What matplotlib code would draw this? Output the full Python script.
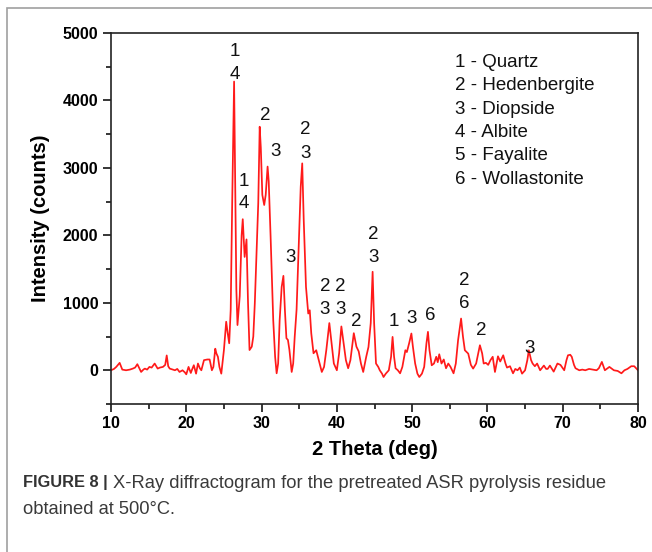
import matplotlib.pyplot as plt
from matplotlib.patches import Rectangle
from matplotlib.ticker import MultipleLocator

# XRD pattern (2 theta in deg, intensity in counts)
two_theta = [
    10.0, 10.4, 10.7, 11.15, 11.5, 12.0, 12.5, 12.9, 13.2, 13.5, 13.8, 14.0,
    14.3, 14.5, 14.8, 15.1, 15.4, 15.8, 16.2, 16.5, 16.9, 17.2, 17.4, 17.6,
    17.8, 18.2, 18.5, 18.8, 19.1, 19.5, 19.8, 20.0, 20.3, 20.6, 20.8, 21.0,
    21.3, 21.55, 21.8, 22.0, 22.35, 22.8, 23.1, 23.4, 23.6, 23.85, 24.0, 24.2,
    24.4, 24.65, 25.0, 25.3, 25.5, 25.7, 25.9, 26.1, 26.35, 26.5, 26.65, 26.8,
    27.1, 27.35, 27.5, 27.75, 28.0, 28.2, 28.4, 28.7, 28.9, 29.1, 29.35, 29.56,
    29.75, 29.9, 30.1, 30.35, 30.55, 30.8, 30.95, 31.2, 31.55, 31.8, 32.0, 32.2,
    32.4, 32.67, 32.9, 33.1, 33.3, 33.5, 33.7, 34.0, 34.2, 34.4, 34.65, 34.9,
    35.2, 35.4, 35.6, 35.9, 36.2, 36.4, 36.6, 36.9, 37.26, 37.6, 38.0, 38.3,
    38.6, 39.0, 39.3, 39.6, 40.0, 40.3, 40.6, 40.9, 41.2, 41.5, 41.8, 42.25,
    42.6, 42.9, 43.2, 43.5, 43.9, 44.2, 44.5, 44.75, 44.95, 45.2, 45.5, 45.7,
    46.0, 46.2, 46.5, 46.9, 47.2, 47.4, 47.6, 47.8, 48.1, 48.4, 48.7, 49.1,
    49.3, 49.6, 49.9, 50.1, 50.4, 50.7, 50.95, 51.3, 51.6, 51.9, 52.1, 52.3,
    52.6, 52.9, 53.2, 53.4, 53.6, 53.9, 54.2, 54.5, 54.8, 55.1, 55.5, 55.8,
    56.1, 56.5, 56.75, 57.0, 57.45, 57.8, 58.1, 58.5, 59.0, 59.3, 59.5, 59.8,
    60.1, 60.4, 60.7, 61.0, 61.4, 61.7, 62.1, 62.4, 62.6, 63.0, 63.4, 63.7,
    64.0, 64.3, 64.6, 65.0, 65.3, 65.5, 65.8, 66.0, 66.3, 66.6, 67.0, 67.5,
    67.8, 68.0, 68.3, 68.8, 69.3, 69.7, 70.2, 70.5, 70.7, 71.0, 71.2, 71.5,
    71.7, 72.2, 72.6, 73.0, 73.5, 74.0, 74.5, 74.8, 75.2, 75.6, 76.2, 76.8,
    77.3, 77.8, 78.2, 78.6, 79.1, 79.5, 80.0,
]
intensity = [
    0, 20, 50, 110, 10, 0, 10, 25, 40, 90, 20, -25,
    10, 25, 10, 50, 40, 100, 25, 40, 50, 80, 220, 60,
    25, 10, 0, 20, -25, 0, -30, -60, 50, -40, 20, 75,
    -50, 100, 30, 0, 150, 160, 160, 0, 50, 320, 250, 200,
    50, -50, 300, 720, 550, 400, 900, 2500, 4280, 2800, 1200, 670,
    1100, 2000, 2240, 1680, 1940, 1000, 300, 350, 500, 990, 1800, 2480,
    3610, 3300, 2600, 2450, 2600, 3020, 2800, 1980, 740, 200, -45, 100,
    740, 1236, 1400, 890, 475, 450, 300, -25, 100, 494, 900, 1730,
    2720, 3067, 2226, 1236, 841, 890, 549, 252, 297, 148, -25, 50,
    300, 700, 400, 100, 0, 250, 650, 400, 150, 30, 150, 550,
    350, 280, 100, -25, 200, 345, 700, 1460, 700, 100, 50, 0,
    -50, -100, -50, 0, 200, 495, 200, 30, 0, -45, 50, 297,
    270, 400, 545, 350, 100, -50, -100, -50, 50, 400, 570, 300,
    74, 100, 200, 120, 237, 100, 160, 30, 100, 50, -45, 100,
    445, 767, 500, 297, 247, 80, 25, 100, 371, 250, 100, 110,
    80, 150, 200, -25, 207, 130, 222, 100, 40, 60, -45, 20,
    0, 40, -50, 0, 150, 297, 150, 100, 60, 100, 0, 70,
    20, 20, 70, -20, 100, 80, 0, 150, 222, 230, 200, 80,
    30, 0, 10, 0, 20, 10, 0, 30, 124, 0, 50, 0,
    -10, -45, 0, 20, 60, 60, 0,
]

# phase labels above peaks
label_x = [26.5, 26.5, 27.7, 27.7, 30.45, 31.9, 35.85, 35.85, 33.86,
           38.4, 38.4, 40.5, 40.5, 42.6, 44.85, 44.85, 47.5, 49.93, 52.37,
           56.92, 56.92, 59.2, 65.55]
label_y = [4724, 4378, 2795, 2478, 3784, 3240, 3562, 3215, 1672,
           1246, 900, 1246, 900, 717, 2010, 1675, 717, 767, 816,
           1336, 990, 594, 322]
label_txt = ["1", "4", "1", "4", "2", "3", "2", "3", "3",
             "2", "3", "2", "3", "2", "2", "3", "1", "3", "6",
             "2", "6", "2", "3"]

phases = ["1 - Quartz", "2 - Hedenbergite", "3 - Diopside",
          "4 - Albite", "5 - Fayalite", "6 - Wollastonite"]

plt.rcParams["font.family"] = ["Liberation Sans", "DejaVu Sans"]

fig = plt.figure(figsize=(6.52, 5.52), dpi=100)
ax = fig.add_axes([111 / 652, 1 - 404 / 552, 527 / 652, 371 / 552])

ax.plot(two_theta, intensity, color="#ff1a1a", lw=1.25)

ax.set_xlim(10, 80)
ax.set_ylim(-500, 5000)
ax.xaxis.set_major_locator(MultipleLocator(10))
ax.xaxis.set_minor_locator(MultipleLocator(5))
ax.yaxis.set_major_locator(MultipleLocator(1000))
ax.yaxis.set_minor_locator(MultipleLocator(500))
ax.tick_params(which="major", direction="out", length=6, width=1.1,
               labelsize=11.5, pad=3)
ax.tick_params(which="minor", direction="out", length=3.5, width=1.1)
for lbl in ax.get_xticklabels() + ax.get_yticklabels():
    lbl.set_fontweight("bold")
for sp in ax.spines.values():
    sp.set_linewidth(1.2)
    sp.set_color("#222222")

ax.set_xlabel("2 Theta (deg)", fontsize=14.5, fontweight="bold", labelpad=6)
ax.set_ylabel("Intensity (counts)", fontsize=14.5, fontweight="bold", labelpad=9)

for x, y, t in zip(label_x, label_y, label_txt):
    ax.text(x, y, t, ha="center", va="center", fontsize=13.5, color="#111111")

for i, p in enumerate(phases):
    fig.text(455 / 652, 1 - (62 + i * 23.5) / 552, p, ha="left", va="center",
             fontsize=13.5, color="#111111")

# panel frame
fig.patches.append(Rectangle((7 / 652, -0.1), 1.2, 1.1 - 8 / 552,
                             transform=fig.transFigure, fill=False,
                             edgecolor="#a0a0a0", lw=1.2))

fig.text(23 / 652, 1 - 483 / 552, "FIGURE 8 |", ha="left", va="center",
         fontsize=11.8, fontweight="bold", color="#333333")
fig.text(113 / 652, 1 - 483 / 552,
         "X-Ray diffractogram for the pretreated ASR pyrolysis residue",
         ha="left", va="center", fontsize=13.2, color="#3a3a3a")
fig.text(23 / 652, 1 - 510 / 552, "obtained at 500\u00b0C.", ha="left",
         va="center", fontsize=13.2, color="#3a3a3a")

fig.savefig("out.png", dpi=100)
